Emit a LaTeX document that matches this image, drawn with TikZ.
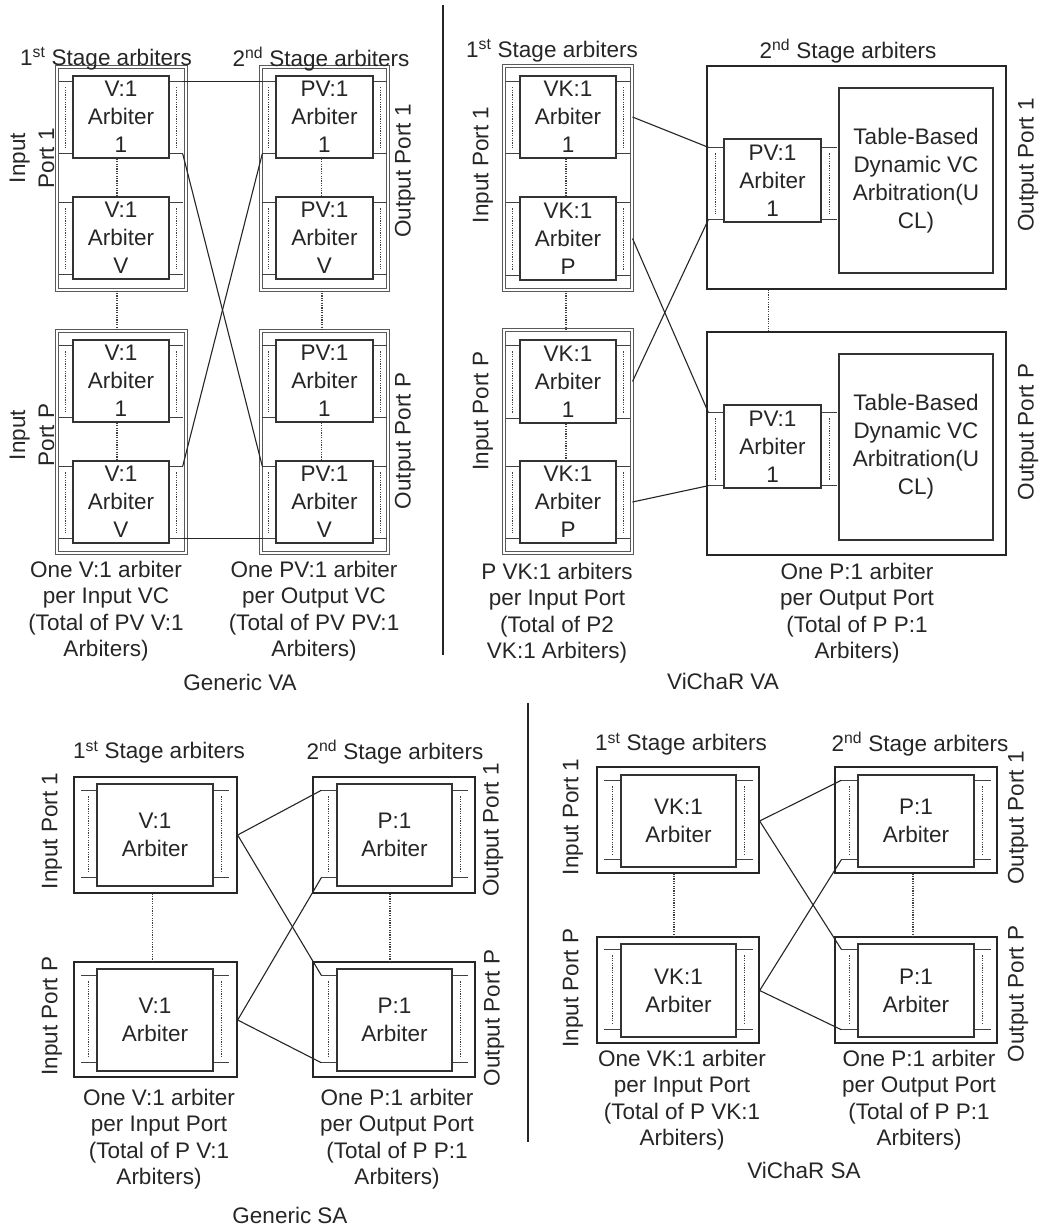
\documentclass[tikz,border=0pt]{standalone}
\usepackage{fontspec}
\setmainfont{Liberation Sans}
\usetikzlibrary{calc}
\tikzset{
 txt/.style={font=\fontsize{22.5}{27}\selectfont, text=black!85, inner sep=0pt, align=center},
 rot/.style={txt, rotate=90},
 rottwo/.style={txt, rotate=90, font=\fontsize{22.5}{29}\selectfont},
 capt/.style={txt, font=\fontsize{22.5}{26.5}\selectfont},
 arbbox/.style={draw=black!80, line width=1.4pt, fill=white, inner sep=0pt, align=center, font=\fontsize{22.5}{28}\selectfont, text=black!85},
 outerD/.style={draw=black!65, double=white, double distance=1.2pt, line width=1pt},
 outerS/.style={draw=black!85, line width=1.3pt},
 tick/.style={draw=black!75, line width=1.3pt},
 dots/.style={draw=black!75, line width=1.2pt, dash pattern=on 1.2pt off 1.2pt},
 conn/.style={draw=black!85, line width=1.1pt},
 divider/.style={draw=black!85, line width=1.2pt},
}
% box node: style, name, x1, y1, x2, y2
\newcommand\bx[6]{\node[#1,inner sep=0pt,minimum width={#5-#3},minimum height={#6-#4}] (#2) at ({(#3+#5)/2},{(#4+#6)/2}) {};}
% arbiter node: name, x1, y1, x2, y2, text
\newcommand\arbnode[6]{\node[arbbox,minimum width={#4-#2},minimum height={#5-#3}] (#1) at ({(#2+#4)/2},{(#3+#5)/2}) {#6};}
% brackets: name, length, top offset, bottom offset
\newcommand\brk[4]{%
  \coordinate (#1lt) at ($(#1.north west)+(-#2,#3)$);
  \coordinate (#1lb) at ($(#1.south west)+(-#2,-#4)$);
  \coordinate (#1rt) at ($(#1.north east)+(#2,#3)$);
  \coordinate (#1rb) at ($(#1.south east)+(#2,-#4)$);
  \draw[tick] (#1lt) -- (#1lt -| #1.west);
  \draw[tick] (#1lb) -- (#1lb -| #1.west);
  \draw[tick] (#1rt) -- (#1rt -| #1.east);
  \draw[tick] (#1rb) -- (#1rb -| #1.east);
  \draw[dots] ($(#1lt)!0.5!(#1lt -| #1.west)+(0,6)$) -- ($(#1lb)!0.5!(#1lb -| #1.west)+(0,-6)$);
  \draw[dots] ($(#1rt)!0.5!(#1rt -| #1.east)+(0,6)$) -- ($(#1rb)!0.5!(#1rb -| #1.east)+(0,-6)$);
}
\begin{document}
\begin{tikzpicture}[x=1pt,y=-1pt]
\fill[white] (0,0) rectangle (1043,1228);
\useasboundingbox (0,0) rectangle (1043,1228);

%% ================= Generic VA =================
\bx{outerD}{gP1}{57}{67}{186}{290}
\bx{outerD}{gPP}{57}{331}{186}{553}
\bx{outerD}{gQ1}{261}{67}{388}{290}
\bx{outerD}{gQP}{261}{331}{388}{553}
\arbnode{gA1}{73}{76}{169}{158}{V:1\\Arbiter\\1}
\arbnode{gAV}{73}{197}{169}{279}{V:1\\Arbiter\\V}
\arbnode{gC1}{73}{340}{169}{422}{V:1\\Arbiter\\1}
\arbnode{gCV}{73}{461}{169}{543}{V:1\\Arbiter\\V}
\arbnode{gB1}{276}{76}{373}{158}{PV:1\\Arbiter\\1}
\arbnode{gBV}{276}{197}{373}{279}{PV:1\\Arbiter\\V}
\arbnode{gD1}{276}{340}{373}{422}{PV:1\\Arbiter\\1}
\arbnode{gDV}{276}{461}{373}{543}{PV:1\\Arbiter\\V}
\brk{gA1}{13}{6}{5}\brk{gAV}{13}{6}{5}\brk{gC1}{13}{6}{5}\brk{gCV}{13}{6}{5}
\brk{gB1}{13}{6}{5}\brk{gBV}{13}{6}{5}\brk{gD1}{13}{6}{5}\brk{gDV}{13}{6}{5}
\draw[dots] ([xshift=-4pt]gA1.south) -- ([xshift=-4pt]gAV.north);
\draw[dots] ([xshift=-4pt]gC1.south) -- ([xshift=-4pt]gCV.north);
\draw[dots] ([xshift=-3pt]gB1.south) -- ([xshift=-3pt]gBV.north);
\draw[dots] ([xshift=-3pt]gD1.south) -- ([xshift=-3pt]gDV.north);
\draw[dots] ([xshift=-4.5pt]gP1.south) -- ([xshift=-4.5pt]gPP.north);
\draw[dots] ([xshift=-2.5pt]gQ1.south) -- ([xshift=-2.5pt]gQP.north);
\draw[conn] (gA1rt) -- (gB1lt);
\draw[conn] (gA1rb) -- (gDVlt);
\draw[conn] (gCVrt) -- (gB1lb);
\draw[conn] (gCVrb) -- (gDVlb);
\node[rottwo] (gL1) at (32,158) {Input\\Port 1};
\node[rottwo] (gL2) at (32,435) {Input\\Port P};
\node[rot] (gR1) at (405,171) {Output Port 1};
\node[rot] (gR2) at (405,441) {Output Port P};
\node[txt] (gT1) at (106,59) {1\textsuperscript{st} Stage arbiters};
\node[txt] (gT2) at (321,59) {2\textsuperscript{nd} Stage arbiters};
\node[capt] (gK1) at (106,611) {One V:1 arbiter\\per Input VC\\(Total of PV V:1\\Arbiters)};
\node[capt] (gK2) at (314,611) {One PV:1 arbiter\\per Output VC\\(Total of PV PV:1\\Arbiters)};
\node[txt] (gN) at (240,682) {Generic VA};
\coordinate (dv1t) at (443,5);
\coordinate (dv1b) at (443,655);
\draw[divider] (dv1t) -- (dv1b);

%% ================= ViChaR VA =================
\bx{outerD}{vP1}{504}{66}{632}{290}
\bx{outerD}{vPP}{504}{330}{632}{553}
\bx{outerS}{vQ1}{707}{66}{1006}{289}
\bx{outerS}{vQP}{707}{332}{1006}{555}
\arbnode{vA1}{520}{76}{616}{158}{VK:1\\Arbiter\\1}
\arbnode{vAP}{520}{197}{616}{280}{VK:1\\Arbiter\\P}
\arbnode{vC1}{520}{340}{616}{423}{VK:1\\Arbiter\\1}
\arbnode{vCP}{520}{461}{616}{543}{VK:1\\Arbiter\\P}
\brk{vA1}{13}{6}{5}\brk{vAP}{13}{6}{5}\brk{vC1}{13}{6}{5}\brk{vCP}{13}{6}{5}
\arbnode{vB1}{724}{139}{821}{222}{PV:1\\Arbiter\\1}
\arbnode{vBP}{724}{405}{821}{488}{PV:1\\Arbiter\\1}
\brk{vB1}{15}{9}{3}\brk{vBP}{15}{8}{3}
\arbnode{vT1}{839}{88}{993}{273}{Table-Based\\Dynamic VC\\Arbitration(U\\CL)}
\arbnode{vTP}{839}{354}{993}{540}{Table-Based\\Dynamic VC\\Arbitration(U\\CL)}
\draw[dots] ([xshift=-2pt]vA1.south) -- ([xshift=-2pt]vAP.north);
\draw[dots] ([xshift=-2pt]vC1.south) -- ([xshift=-2pt]vCP.north);
\draw[dots] ([xshift=-2pt]vP1.south) -- ([xshift=-2pt]vPP.north);
\draw[dots] ($(vQ1.south -| vB1.south)+(-4,0)$) -- ($(vQP.north -| vB1.south)+(-4,0)$);
\draw[conn] (vP1.east |- vA1.center) -- (vB1lt);
\draw[conn] (vP1.east |- vAP.center) -- (vBPlt);
\draw[conn] (vPP.east |- vC1.center) -- (vB1lb);
\draw[conn] (vPP.east |- vCP.center) -- (vBPlb);
\node[rot] (vL1) at (483,165) {Input Port 1};
\node[rot] (vL2) at (483,411) {Input Port P};
\node[rot] (vR1) at (1028,165) {Output Port 1};
\node[rot] (vR2) at (1028,432) {Output Port P};
\node[txt] (vT1t) at (552,51) {1\textsuperscript{st} Stage arbiters};
\node[txt] (vT2t) at (848,51) {2\textsuperscript{nd} Stage arbiters};
\node[capt] (vK1) at (557,613) {P VK:1 arbiters\\per Input Port\\(Total of P2\\VK:1 Arbiters)};
\node[capt] (vK2) at (857,613) {One P:1 arbiter\\per Output Port\\(Total of P P:1\\Arbiters)};
\node[txt] (vN) at (723,681) {ViChaR VA};

%% ================= Generic SA =================
\bx{outerS}{sP1}{74}{777}{237}{893}
\bx{outerS}{sPP}{74}{962}{237}{1077}
\bx{outerS}{sQ1}{313}{777}{475}{893}
\bx{outerS}{sQP}{313}{962}{475}{1077}
\arbnode{sA1}{97}{784}{213}{886}{V:1\\Arbiter}
\arbnode{sC1}{97}{969}{213}{1071}{V:1\\Arbiter}
\arbnode{sB1}{337}{784}{452}{886}{P:1\\Arbiter}
\arbnode{sD1}{337}{969}{452}{1071}{P:1\\Arbiter}
\brk{sA1}{15}{7}{9}\brk{sC1}{15}{7}{9}\brk{sB1}{15}{7}{9}\brk{sD1}{15}{7}{9}
\draw[dots] ([xshift=-3pt]sP1.south) -- ([xshift=-3pt]sPP.north);
\draw[dots] ([xshift=-4pt]sQ1.south) -- ([xshift=-4pt]sQP.north);
\draw[conn] (sP1.east |- sA1.center) -- (sB1lt);
\draw[conn] (sP1.east |- sA1.center) -- (sD1lt);
\draw[conn] (sPP.east |- sC1.center) -- (sB1lb);
\draw[conn] (sPP.east |- sC1.center) -- (sD1lb);
\node[rot] (sL1) at (52,831) {Input Port 1};
\node[rot] (sL2) at (52,1016) {Input Port P};
\node[rot] (sR1) at (493,830) {Output Port 1};
\node[rot] (sR2) at (494,1018) {Output Port P};
\node[txt] (sT1) at (159,752) {1\textsuperscript{st} Stage arbiters};
\node[txt] (sT2) at (395,752) {2\textsuperscript{nd} Stage arbiters};
\node[capt] (sK1) at (159,1139) {One V:1 arbiter\\per Input Port\\(Total of P V:1\\Arbiters)};
\node[capt] (sK2) at (397,1139) {One P:1 arbiter\\per Output Port\\(Total of P P:1\\Arbiters)};
\node[txt] (sN) at (290,1215) {Generic SA};

%% ================= ViChaR SA =================
\bx{outerS}{wP1}{597}{767}{759}{873}
\bx{outerS}{wPP}{597}{937}{759}{1043}
\bx{outerS}{wQ1}{835}{767}{997}{873}
\bx{outerS}{wQP}{835}{937}{997}{1043}
\arbnode{wA1}{621}{775}{736}{867}{VK:1\\Arbiter}
\arbnode{wC1}{621}{944}{736}{1037}{VK:1\\Arbiter}
\arbnode{wB1}{858}{775}{974}{867}{P:1\\Arbiter}
\arbnode{wD1}{858}{944}{974}{1037}{P:1\\Arbiter}
\brk{wA1}{16}{6}{8}\brk{wC1}{16}{6}{8}\brk{wB1}{16}{6}{8}\brk{wD1}{16}{6}{8}
\draw[dots] ([xshift=-4pt]wP1.south) -- ([xshift=-4pt]wPP.north);
\draw[dots] ([xshift=-3pt]wQ1.south) -- ([xshift=-3pt]wQP.north);
\draw[conn] (wP1.east |- wA1.center) -- (wB1lt);
\draw[conn] (wP1.east |- wA1.center) -- (wD1lt);
\draw[conn] (wPP.east |- wC1.center) -- (wB1lb);
\draw[conn] (wPP.east |- wC1.center) -- (wD1lb);
\node[rot] (wL1) at (573,817) {Input Port 1};
\node[rot] (wL2) at (573,988) {Input Port P};
\node[rot] (wR1) at (1018,818) {Output Port 1};
\node[rot] (wR2) at (1018,994) {Output Port P};
\node[txt] (wT1) at (681,744) {1\textsuperscript{st} Stage arbiters};
\node[txt] (wT2) at (920,744) {2\textsuperscript{nd} Stage arbiters};
\node[capt] (wK1) at (682,1100) {One VK:1 arbiter\\per Input Port\\(Total of P VK:1\\Arbiters)};
\node[capt] (wK2) at (919,1100) {One P:1 arbiter\\per Output Port\\(Total of P P:1\\Arbiters)};
\node[txt] (wN) at (804,1170) {ViChaR SA};
\coordinate (dv2t) at (528,703);
\coordinate (dv2b) at (528,1142);
\draw[divider] (dv2t) -- (dv2b);
\end{tikzpicture}
\end{document}
